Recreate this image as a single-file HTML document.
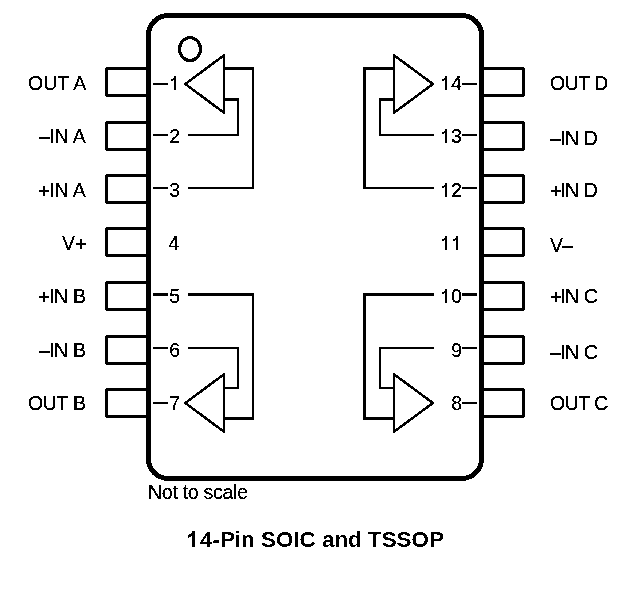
<!DOCTYPE html>
<html><head><meta charset="utf-8"><title>14-Pin SOIC and TSSOP</title>
<style>html,body{margin:0;padding:0;background:#fff;width:633px;height:594px;overflow:hidden}
svg{display:block;font-family:"Liberation Sans",sans-serif}</style></head>
<body>
<svg width="633" height="594" viewBox="0 0 633 594">
<defs><filter id="bin" x="0" y="0" width="633" height="594" filterUnits="userSpaceOnUse" color-interpolation-filters="sRGB"><feComponentTransfer><feFuncR type="discrete" tableValues="0 1"/><feFuncG type="discrete" tableValues="0 1"/><feFuncB type="discrete" tableValues="0 1"/></feComponentTransfer></filter><filter id="bint" x="0" y="0" width="633" height="594" filterUnits="userSpaceOnUse" color-interpolation-filters="sRGB"><feComponentTransfer><feFuncA type="discrete" tableValues="0 1"/></feComponentTransfer></filter><filter id="bint2" x="0" y="0" width="633" height="594" filterUnits="userSpaceOnUse" color-interpolation-filters="sRGB"><feComponentTransfer><feFuncA type="discrete" tableValues="0 0 0 0 0 1 1 1 1 1"/></feComponentTransfer></filter></defs>
<g filter="url(#bin)"><rect x="0" y="0" width="633" height="594" fill="#fff"/>
<rect x="106.5" y="68.5" width="44" height="27" rx="1.2" fill="none" stroke="#000" stroke-width="3"/>
<rect x="480" y="68.5" width="43.5" height="27" rx="1.2" fill="none" stroke="#000" stroke-width="3"/>
<rect x="106.5" y="122.5" width="44" height="27" rx="1.2" fill="none" stroke="#000" stroke-width="3"/>
<rect x="480" y="122.5" width="43.5" height="27" rx="1.2" fill="none" stroke="#000" stroke-width="3"/>
<rect x="106.5" y="175.5" width="44" height="27" rx="1.2" fill="none" stroke="#000" stroke-width="3"/>
<rect x="480" y="175.5" width="43.5" height="27" rx="1.2" fill="none" stroke="#000" stroke-width="3"/>
<rect x="106.5" y="228.5" width="44" height="27" rx="1.2" fill="none" stroke="#000" stroke-width="3"/>
<rect x="480" y="228.5" width="43.5" height="27" rx="1.2" fill="none" stroke="#000" stroke-width="3"/>
<rect x="106.5" y="282.5" width="44" height="27" rx="1.2" fill="none" stroke="#000" stroke-width="3"/>
<rect x="480" y="282.5" width="43.5" height="27" rx="1.2" fill="none" stroke="#000" stroke-width="3"/>
<rect x="106.5" y="336.5" width="44" height="27" rx="1.2" fill="none" stroke="#000" stroke-width="3"/>
<rect x="480" y="336.5" width="43.5" height="27" rx="1.2" fill="none" stroke="#000" stroke-width="3"/>
<rect x="106.5" y="389.5" width="44" height="27" rx="1.2" fill="none" stroke="#000" stroke-width="3"/>
<rect x="480" y="389.5" width="43.5" height="27" rx="1.2" fill="none" stroke="#000" stroke-width="3"/>
<rect x="148.5" y="15.5" width="333" height="463" rx="19.5" fill="#fff" stroke="#000" stroke-width="5"/>
<ellipse cx="190" cy="49" rx="10.5" ry="11.5" fill="none" stroke="#000" stroke-width="3"/>
<g fill="#000" shape-rendering="crispEdges">
<rect x="153" y="83" width="15" height="2"/>
<rect x="462" y="83" width="15" height="2"/>
<rect x="153" y="134" width="15" height="2"/>
<rect x="462" y="134" width="15" height="2"/>
<rect x="153" y="187" width="15" height="2"/>
<rect x="462" y="187" width="15" height="2"/>
<rect x="153" y="293" width="15" height="3"/>
<rect x="462" y="293" width="15" height="3"/>
<rect x="153" y="347" width="15" height="2"/>
<rect x="462" y="347" width="15" height="2"/>
<rect x="153" y="402" width="15" height="2"/>
<rect x="462" y="402" width="15" height="2"/>
<rect x="224" y="67" width="30" height="3"/>
<rect x="252" y="67" width="2" height="122"/>
<rect x="188" y="187" width="66" height="2"/>
<rect x="224" y="98" width="15" height="3"/>
<rect x="237" y="98" width="2" height="38"/>
<rect x="188" y="134" width="51" height="2"/>
<rect x="363" y="67" width="32" height="3"/>
<rect x="363" y="67" width="3" height="122"/>
<rect x="363" y="187" width="71" height="2"/>
<rect x="379" y="98" width="16" height="3"/>
<rect x="379" y="98" width="2" height="38"/>
<rect x="379" y="134" width="55" height="2"/>
<rect x="224" y="387" width="15" height="2"/>
<rect x="237" y="347" width="2" height="42"/>
<rect x="188" y="347" width="51" height="2"/>
<rect x="224" y="417" width="30" height="3"/>
<rect x="252" y="293" width="2" height="127"/>
<rect x="188" y="293" width="66" height="3"/>
<rect x="379" y="387" width="16" height="2"/>
<rect x="379" y="347" width="2" height="42"/>
<rect x="379" y="347" width="55" height="2"/>
<rect x="363" y="417" width="32" height="3"/>
<rect x="363" y="293" width="3" height="127"/>
<rect x="363" y="293" width="71" height="3"/>
</g>
<rect x="223" y="54" width="2" height="60" fill="#000" shape-rendering="crispEdges"/><path d="M224 55.2 L185.3 84 L224 112.8" fill="none" stroke="#000" stroke-width="2.5" stroke-linejoin="miter" stroke-miterlimit="10"/>
<rect x="223" y="373" width="2" height="60" fill="#000" shape-rendering="crispEdges"/><path d="M224 374.2 L185.3 403 L224 431.8" fill="none" stroke="#000" stroke-width="2.5" stroke-linejoin="miter" stroke-miterlimit="10"/>
<rect x="393" y="54" width="2" height="60" fill="#000" shape-rendering="crispEdges"/><path d="M394 55.2 L432.9 84 L394 112.8" fill="none" stroke="#000" stroke-width="2.5" stroke-linejoin="miter" stroke-miterlimit="10"/>
<rect x="393" y="373" width="2" height="60" fill="#000" shape-rendering="crispEdges"/><path d="M394 374.2 L432.9 403 L394 431.8" fill="none" stroke="#000" stroke-width="2.5" stroke-linejoin="miter" stroke-miterlimit="10"/>
<g filter="url(#bint)"><g font-family="Liberation Sans" font-size="19.5" fill="#000" stroke="#000" stroke-width="0.2">
<text x="28" y="90">OUT A</text>
<text x="550" y="90" letter-spacing="-0.5">OUT D</text>
<text x="451" y="90">4</text>
<text x="49" y="143">IN A</text>
<text x="560" y="145" letter-spacing="-0.35">IN D</text>
<text x="180" y="143" text-anchor="end">2</text>
<text x="451" y="143">3</text>
<text x="49" y="197">IN A</text>
<text x="560" y="197" letter-spacing="-0.35">IN D</text>
<text x="180" y="197" text-anchor="end">3</text>
<text x="451" y="197">2</text>
<text x="62" y="250">V</text>
<text x="550" y="252">V</text>
<text x="179" y="250" text-anchor="end">4</text>
<text x="49" y="303" letter-spacing="-0.33">IN B</text>
<text x="560" y="303" letter-spacing="-0.35">IN C</text>
<text x="180" y="303" text-anchor="end">5</text>
<text x="451" y="303">0</text>
<text x="49" y="357" letter-spacing="-0.33">IN B</text>
<text x="560" y="359" letter-spacing="-0.35">IN C</text>
<text x="180" y="357" text-anchor="end">6</text>
<text x="462" y="357" text-anchor="end">9</text>
<text x="28" y="410" letter-spacing="-0.33">OUT B</text>
<text x="550" y="410" letter-spacing="-0.5">OUT C</text>
<text x="180" y="410" text-anchor="end">7</text>
<text x="462" y="410" text-anchor="end">8</text>
<text x="148" y="499" letter-spacing="-0.27">Not to scale</text>
</g>
</g><text filter="url(#bint2)" x="200" y="547" font-family="Liberation Sans" font-weight="bold" font-size="22.4">4-Pin SOIC and TSSOP</text>
<g fill="#000" shape-rendering="crispEdges"><rect x="174" y="76" width="2" height="14"/><rect x="173" y="78" width="1" height="1"/><rect x="171" y="79" width="3" height="1"/><rect x="171" y="80" width="2" height="1"/><rect x="445" y="76" width="2" height="14"/><rect x="444" y="78" width="1" height="1"/><rect x="442" y="79" width="3" height="1"/><rect x="442" y="80" width="2" height="1"/><rect x="39" y="137" width="11" height="2"/><rect x="550" y="139" width="11" height="2"/><rect x="445" y="129" width="2" height="14"/><rect x="444" y="131" width="1" height="1"/><rect x="442" y="132" width="3" height="1"/><rect x="442" y="133" width="2" height="1"/><rect x="39" y="190" width="10" height="2"/><rect x="43" y="186" width="2" height="10"/><rect x="551" y="190" width="10" height="2"/><rect x="555" y="186" width="2" height="10"/><rect x="445" y="183" width="2" height="14"/><rect x="444" y="185" width="1" height="1"/><rect x="442" y="186" width="3" height="1"/><rect x="442" y="187" width="2" height="1"/><rect x="76" y="243" width="10" height="2"/><rect x="80" y="239" width="2" height="10"/><rect x="562" y="246" width="11" height="2"/><rect x="445" y="236" width="2" height="14"/><rect x="444" y="238" width="1" height="1"/><rect x="442" y="239" width="3" height="1"/><rect x="442" y="240" width="2" height="1"/><rect x="456" y="236" width="2" height="14"/><rect x="455" y="238" width="1" height="1"/><rect x="453" y="239" width="3" height="1"/><rect x="453" y="240" width="2" height="1"/><rect x="39" y="296" width="10" height="2"/><rect x="43" y="292" width="2" height="10"/><rect x="551" y="296" width="10" height="2"/><rect x="555" y="292" width="2" height="10"/><rect x="445" y="289" width="2" height="14"/><rect x="444" y="291" width="1" height="1"/><rect x="442" y="292" width="3" height="1"/><rect x="442" y="293" width="2" height="1"/><rect x="39" y="351" width="11" height="2"/><rect x="550" y="353" width="11" height="2"/><rect x="192" y="531" width="3" height="16"/><rect x="191" y="533" width="1" height="1"/><rect x="189" y="534" width="3" height="1"/><rect x="188" y="535" width="4" height="1"/><rect x="188" y="536" width="3" height="1"/><rect x="188" y="537" width="1" height="1"/></g>
</g></svg>
</body></html>
